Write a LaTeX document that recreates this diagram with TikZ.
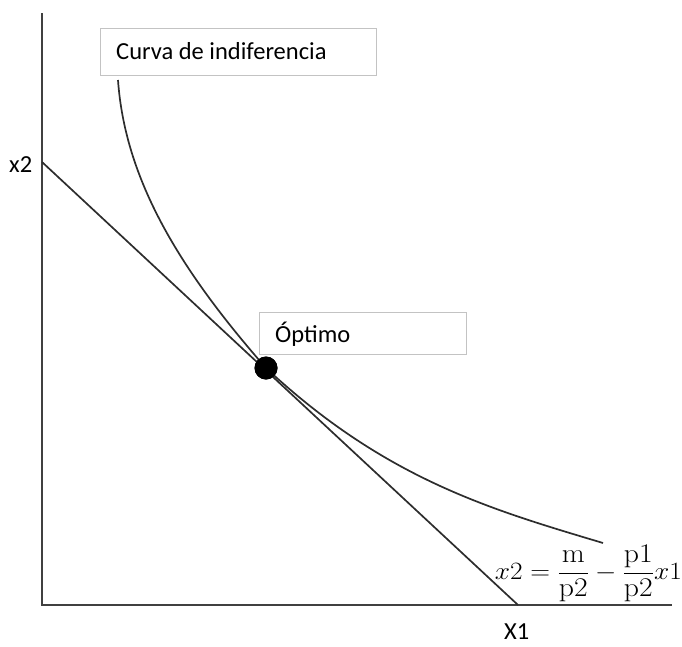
\documentclass[tikz,border=0pt]{standalone}
\usepackage{graphicx}
\usepackage{fontspec}
\newfontfamily\calibri{Carlito}
\definecolor{axisgray}{RGB}{64,64,64}
\definecolor{linegray}{RGB}{45,45,45}
\definecolor{boxgray}{RGB}{195,195,195}
\tikzset{
  axis/.style={line width=2.2pt, draw=axisgray},
  thinline/.style={line width=1.7pt, draw=linegray},
  labelbox/.style={draw=boxgray, line width=1.3pt, fill=white, rectangle, inner sep=0pt, anchor=north west},
  lbl/.style={inner sep=0pt, font=\calibri\fontsize{24.5}{28}\selectfont, text=black},
}
\begin{document}
\begin{tikzpicture}[x=1pt,y=-1pt]
\useasboundingbox (0,0) rectangle (682,646);
% axes
\coordinate (ytop) at (42,13);
\coordinate (origin) at (42,605);
\coordinate (xend) at (672,605);
\draw[axis] (ytop) -- (origin) -- (xend);
% budget line
\coordinate (b1) at (42,162);
\coordinate (b2) at (518,605);
\draw[thinline] (b1) -- (b2);
% indifference curve
\coordinate (c0) at (118,80);
\coordinate (c1) at (603,543);
\node[circle, fill=black, minimum size=23pt, inner sep=0pt] (opt) at (266,368) {};
\draw[thinline] (c0) .. controls (125,180) and (180,270) .. (opt.center)
  .. controls (386,480) and (493,510) .. (c1);
% redraw dot on top
\fill[black] (opt.center) circle (11.5pt);
% labels
\node[labelbox, minimum width=276pt, minimum height=47pt] (curvebox) at (100,28) {};
\node[lbl, anchor=base west] (curvetext) at (116,59) {Curva de indiferencia};
\node[labelbox, minimum width=207pt, minimum height=42pt] (optbox) at (259,312) {};
\node[lbl, anchor=base west] (opttext) at (275,342) {Óptimo};
\node[lbl, anchor=base west] (ylab) at (9,172) {x2};
\node[lbl, anchor=base west] (xlab) at (504,639) {X1};
\node[inner sep=0pt, anchor=base east, font=\fontsize{27}{32}\selectfont] (eq) at (682,579)
  {\scalebox{1.1}[1]{$\displaystyle x2=\frac{\mathrm{m}}{\mathrm{p2}}-\frac{\mathrm{p1}}{\mathrm{p2}}x1$}};
\end{tikzpicture}
\end{document}
